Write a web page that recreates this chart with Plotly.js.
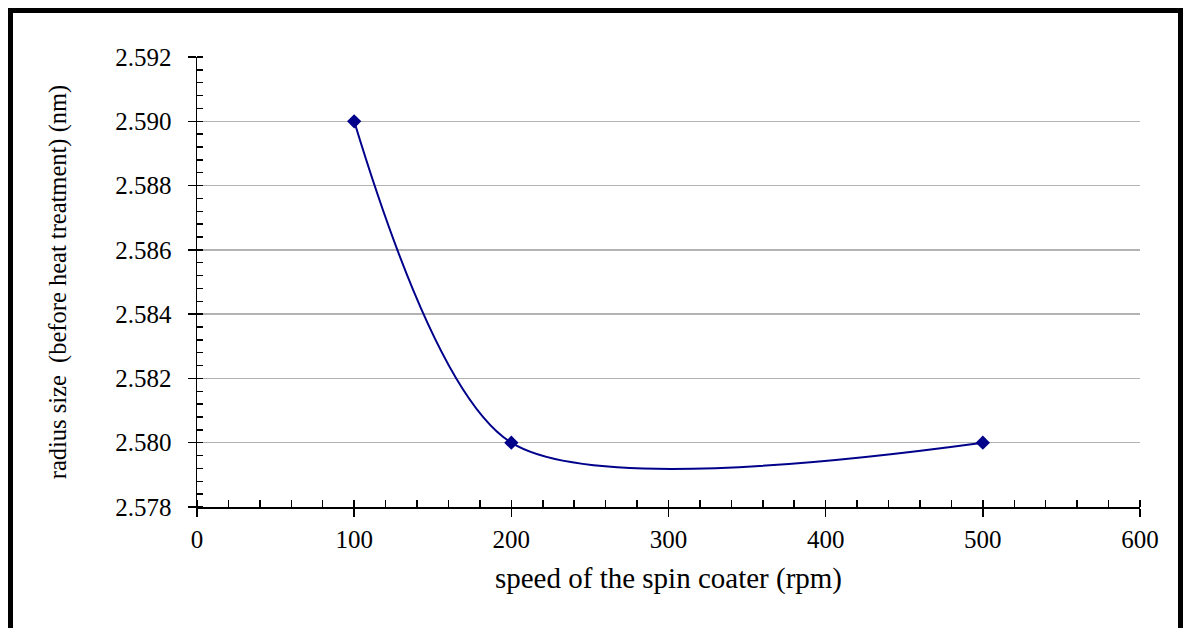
<!DOCTYPE html>
<html>
<head>
<meta charset="utf-8">
<script src="https://cdn.plot.ly/plotly-3.0.1.min.js"></script>
<style>
  html, body { margin:0; padding:0; background:#fff; overflow:hidden; }
  #wrap { position:relative; width:1187px; height:628px; overflow:hidden; }
  #chart { position:absolute; left:0; top:0; width:1187px; height:628px; }
  #frame { position:absolute; left:8px; top:8px; width:1165px; height:700px; border:5px solid #000; pointer-events:none; }
</style>
</head>
<body>
<div id="wrap">
  <div id="chart"></div>
  <div id="frame"></div>
</div>
<script>
const speedRpm = [100, 200, 500];
const radiusNm = [2.590, 2.580, 2.580];
const xTitle = 'speed of the spin coater (rpm)';
const yTitle = 'radius size\u00a0 (before heat treatment) (nm)';

const font = {family: 'Liberation Serif, Times New Roman, serif', color: '#000'};

const traces = [
  {
    x: speedRpm, y: radiusNm, type: 'scatter', mode: 'lines+markers',
    line: {shape: 'spline', smoothing: 0.8, color: '#00008B', width: 2},
    marker: {symbol: 'diamond', size: 11, color: '#00008B'},
    hoverinfo: 'x+y'
  },
  { x: [], y: [], xaxis: 'x2', yaxis: 'y2', type: 'scatter', mode: 'markers', showlegend: false }
];

const layout = {
  width: 1187, height: 628,
  margin: {l: 197, r: 47, t: 57, b: 121},
  paper_bgcolor: '#fff', plot_bgcolor: '#fff',
  showlegend: false,
  font: Object.assign({size: 25}, font),
  xaxis: {
    range: [0, 600], dtick: 100, tick0: 0,
    showgrid: false, zeroline: false,
    showline: true, linecolor: '#000', linewidth: 1.5,
    ticks: 'outside', ticklen: 8, tickwidth: 1.5, tickcolor: '#000',
    minor: {dtick: 20, ticks: 'inside', ticklen: 7, tickwidth: 1.5, tickcolor: '#000', showgrid: false},
    ticklabelstandoff: 1,
    tickfont: Object.assign({size: 25}, font),
    title: {text: xTitle, font: Object.assign({size: 29}, font), standoff: 16}
  },
  yaxis: {
    range: [2.578, 2.592], dtick: 0.002, tick0: 2.578, tickformat: '.3f',
    showgrid: true, gridcolor: '#b3b3b3', gridwidth: 1.5,
    zeroline: false,
    showline: true, linecolor: '#000', linewidth: 1.5,
    ticks: 'outside', ticklen: 8, tickwidth: 1.5, tickcolor: '#000',
    minor: {dtick: 0.0004, ticks: 'inside', ticklen: 6, tickwidth: 1.5, tickcolor: '#000', showgrid: false},
    ticklabelstandoff: 11,
    tickfont: Object.assign({size: 25}, font),
    title: {text: yTitle, font: Object.assign({size: 24.5}, font), standoff: 41}
  },
  xaxis2: {
    overlaying: 'x', anchor: 'y', range: [0, 600], dtick: 100, tick0: 0,
    showgrid: false, zeroline: false, showline: false, showticklabels: false,
    ticks: 'inside', ticklen: 7, tickwidth: 1.5, tickcolor: '#000'
  },
  yaxis2: {
    overlaying: 'y', anchor: 'x', range: [2.578, 2.592], dtick: 0.002, tick0: 2.578,
    showgrid: false, zeroline: false, showline: false, showticklabels: false,
    ticks: 'inside', ticklen: 6, tickwidth: 1.5, tickcolor: '#000'
  }
};

Plotly.newPlot('chart', traces, layout, {displayModeBar: false, staticPlot: true});
</script>
</body>
</html>
